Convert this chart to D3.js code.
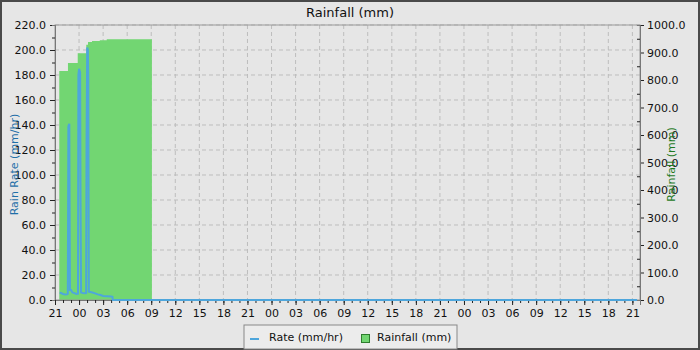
<!DOCTYPE html>
<html>
<head>
<meta charset="utf-8">
<script src="https://cdn.jsdelivr.net/npm/d3@7"></script>
<style>
  body { margin: 0; background: #e6e6e6; }
  svg { display: block; font-family: "DejaVu Sans", sans-serif; }
</style>
</head>
<body>
<svg id="chart"></svg>
<script>
// time window of the chart
var xStart = "2023-07-10 21:00";
var xEnd = "2023-07-13 21:57";

// rain rate (mm/hr), left axis
var rateTimes = ["2023-07-10 21:35", "2023-07-10 21:45", "2023-07-10 22:00", "2023-07-10 22:15", "2023-07-10 22:30",
  "2023-07-10 22:36", "2023-07-10 22:40", "2023-07-10 22:47", "2023-07-10 22:52", "2023-07-10 23:00",
  "2023-07-10 23:10", "2023-07-10 23:25", "2023-07-10 23:40", "2023-07-10 23:52", "2023-07-10 23:55",
  "2023-07-11 00:00", "2023-07-11 00:08", "2023-07-11 00:11", "2023-07-11 00:15", "2023-07-11 00:30",
  "2023-07-11 00:45", "2023-07-11 00:53", "2023-07-11 00:56", "2023-07-11 01:01", "2023-07-11 01:06",
  "2023-07-11 01:09", "2023-07-11 01:13", "2023-07-11 01:40", "2023-07-11 02:00", "2023-07-11 02:20",
  "2023-07-11 02:40", "2023-07-11 03:00", "2023-07-11 03:30", "2023-07-11 04:00", "2023-07-11 04:10",
  "2023-07-11 04:12", "2023-07-13 21:35"];
var rateValues = [5.8, 5.6, 4.8, 4.4, 4.6,
  5.0, 139, 141, 8.0, 8.0,
  6.0, 5.5, 4.8, 5.0, 180,
  185, 182, 82, 6.0, 5.5,
  5.4, 5.5, 125, 202, 200,
  178, 6.6, 6.0, 5.3, 4.5,
  4.0, 3.2, 3.0, 2.8, 2.6,
  0, 0];

// cumulative rainfall (mm), right axis
var rainTimes = ["2023-07-10 21:32", "2023-07-10 22:37", "2023-07-10 23:50", "2023-07-11 00:54",
  "2023-07-11 01:07", "2023-07-11 01:37", "2023-07-11 02:35", "2023-07-11 03:27", "2023-07-11 09:05"];
var rainValues = [833, 862, 897, 928, 938, 942, 945, 948, 948];

var leftTicks = d3.range(0, 221, 20);
var rightTicks = d3.range(0, 1001, 100);

var W = 700, H = 350;
var margin = {top: 25, right: 60, bottom: 50, left: 55};
var width = W - margin.left - margin.right;
var height = H - margin.top - margin.bottom;

var parse = d3.timeParse("%Y-%m-%d %H:%M");

var svg = d3.select("#chart").attr("width", W).attr("height", H);

svg.append("rect")
    .attr("x", 1).attr("y", 1).attr("width", W - 2).attr("height", H - 2)
    .attr("fill", "#e6e6e6").attr("stroke", "#4a4a4a").attr("stroke-width", 2);

svg.append("text")
    .attr("x", W / 2).attr("y", 17)
    .attr("text-anchor", "middle")
    .attr("font-size", 13)
    .attr("fill", "#111")
    .text("Rainfall (mm)");

var g = svg.append("g")
    .attr("transform", "translate(" + margin.left + "," + margin.top + ")");

var x = d3.scaleTime()
    .domain([parse(xStart), parse(xEnd)])
    .range([0, width]);
var yRate = d3.scaleLinear().domain([0, 220]).range([height, 0]);
var yRain = d3.scaleLinear().domain([0, 1000]).range([height, 0]);

// grid
g.append("g").selectAll("line")
    .data(leftTicks.slice(1))
  .enter().append("line")
    .attr("x1", 0).attr("x2", width)
    .attr("y1", function(d) { return yRate(d); })
    .attr("y2", function(d) { return yRate(d); })
    .attr("stroke", "#bdbdbd").attr("stroke-dasharray", "4,3");

g.append("g").selectAll("line")
    .data(x.ticks(d3.timeHour.every(3)).slice(1))
  .enter().append("line")
    .attr("x1", function(d) { return x(d); })
    .attr("x2", function(d) { return x(d); })
    .attr("y1", 0).attr("y2", height)
    .attr("stroke", "#bdbdbd").attr("stroke-dasharray", "4,3");

// rainfall area
var rain = rainTimes.map(function(t, i) { return {t: parse(t), v: rainValues[i]}; });
g.append("path")
    .datum(rain)
    .attr("fill", "#72d672")
    .attr("d", d3.area()
      .curve(d3.curveStepAfter)
      .x(function(d) { return x(d.t); })
      .y0(height)
      .y1(function(d) { return yRain(d.v); }));

// frame lines
g.append("rect")
    .attr("width", width).attr("height", height)
    .attr("fill", "none").attr("stroke", "#999");

// axes
function styleAxis(sel) {
  sel.selectAll(".domain").attr("stroke", "#777");
  sel.selectAll("line").attr("stroke", "#222");
  sel.selectAll("text").attr("font-size", 11).attr("fill", "#111").attr("font-family", "DejaVu Sans, sans-serif");
}

var fmt = d3.format(".1f");

g.append("g").call(d3.axisLeft(yRate).tickValues(leftTicks).tickFormat(fmt).tickSize(5).tickPadding(4)).call(styleAxis);
g.append("g").call(d3.axisLeft(yRate).tickValues(d3.range(10, 220, 20)).tickFormat("").tickSize(3)).call(styleAxis);

g.append("g").attr("transform", "translate(" + width + ",0)")
    .call(d3.axisRight(yRain).tickValues(rightTicks).tickFormat(fmt).tickSize(4).tickPadding(3)).call(styleAxis);
g.append("g").attr("transform", "translate(" + width + ",0)")
    .call(d3.axisRight(yRain).tickValues(d3.range(50, 1000, 100)).tickFormat("").tickSize(-3)).call(styleAxis);

g.append("g").attr("transform", "translate(0," + height + ")")
    .call(d3.axisBottom(x).ticks(d3.timeHour.every(3)).tickFormat(d3.timeFormat("%H")).tickSize(5).tickPadding(4)).call(styleAxis);
g.append("g").attr("transform", "translate(0," + height + ")")
    .call(d3.axisBottom(x).ticks(d3.timeHour.every(1)).tickFormat("").tickSize(3)).call(styleAxis);

// rain rate line, drawn over the axes so the zero run stays visible
var rate = rateTimes.map(function(t, i) { return {t: parse(t), v: rateValues[i]}; });
g.append("path")
    .datum(rate)
    .attr("fill", "none")
    .attr("stroke", "#4ea6dc")
    .attr("stroke-width", 2)
    .attr("d", d3.line()
      .x(function(d) { return x(d.t); })
      .y(function(d) { return yRate(d.v); }));

// axis titles
svg.append("text")
    .attr("transform", "translate(18," + (margin.top + height / 2 + 2) + ") rotate(-90)")
    .attr("text-anchor", "middle")
    .attr("font-size", 11)
    .attr("fill", "#1f6fa8")
    .text("Rain Rate (mm/hr)");

svg.append("text")
    .attr("transform", "translate(675," + (margin.top + height / 2 + 2) + ") rotate(-90)")
    .attr("text-anchor", "middle")
    .attr("font-size", 11)
    .attr("fill", "#1f7a1f")
    .text("Rainfall (mm)");

// legend
var legend = svg.append("g").attr("transform", "translate(244,325)");
legend.append("rect")
    .attr("width", 213).attr("height", 24)
    .attr("fill", "#ececec").attr("stroke", "#888");
legend.append("line")
    .attr("x1", 6).attr("x2", 15).attr("y1", 14).attr("y2", 14)
    .attr("stroke", "#4ea6dc").attr("stroke-width", 2);
legend.append("text")
    .attr("x", 25).attr("y", 16).attr("font-size", 11).attr("fill", "#111")
    .text("Rate (mm/hr)");
legend.append("rect")
    .attr("x", 117.5).attr("y", 9.5).attr("width", 8).attr("height", 8)
    .attr("fill", "#72d672").attr("stroke", "#2e7d2e");
legend.append("text")
    .attr("x", 133).attr("y", 16).attr("font-size", 11).attr("fill", "#111")
    .text("Rainfall (mm)");
</script>
</body>
</html>
